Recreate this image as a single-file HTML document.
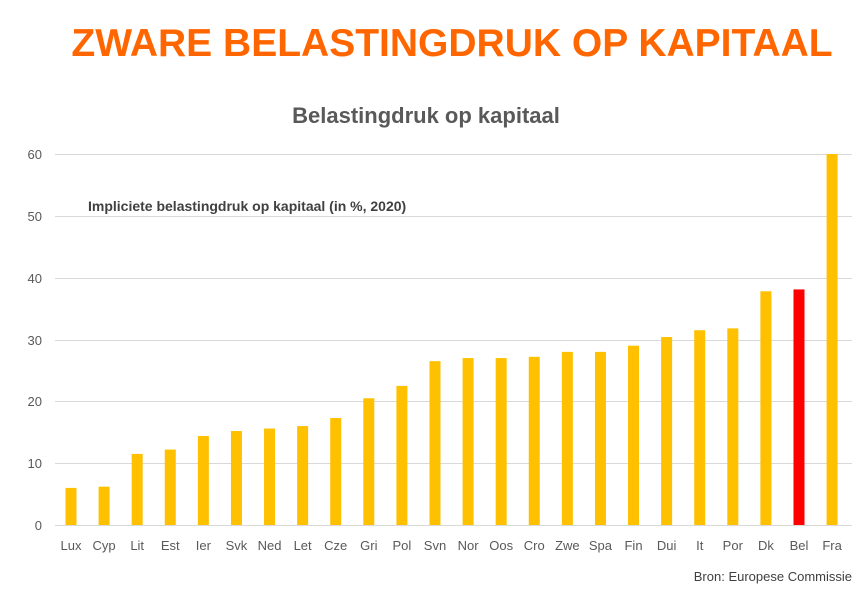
<!DOCTYPE html>
<html><head><meta charset="utf-8"><style>
body{margin:0;background:#fff;width:865px;height:591px;overflow:hidden;font-family:"Liberation Sans",sans-serif}
</style></head><body>
<svg width="865" height="591" xmlns="http://www.w3.org/2000/svg" font-family="Liberation Sans, sans-serif">
<text x="452" y="56" text-anchor="middle" font-size="39" font-weight="bold" fill="#FF6600">ZWARE BELASTINGDRUK OP KAPITAAL</text>
<text x="426" y="123" text-anchor="middle" font-size="22" font-weight="bold" fill="#595959">Belastingdruk op kapitaal</text>
<g stroke="#d9d9d9" stroke-width="1">
<line x1="55" x2="852" y1="154.5" y2="154.5"/><line x1="55" x2="852" y1="216.5" y2="216.5"/>
<line x1="55" x2="852" y1="278.5" y2="278.5"/><line x1="55" x2="852" y1="340.5" y2="340.5"/>
<line x1="55" x2="852" y1="401.5" y2="401.5"/><line x1="55" x2="852" y1="463.5" y2="463.5"/>
<line x1="55" x2="852" y1="525.5" y2="525.5"/>
</g>
<g font-size="13" fill="#595959" text-anchor="end">
<text x="42" y="159">60</text><text x="42" y="221">50</text><text x="42" y="283">40</text>
<text x="42" y="345">30</text><text x="42" y="406">20</text><text x="42" y="468">10</text><text x="42" y="530">0</text>
</g>
<text x="88" y="211" font-size="14" font-weight="bold" fill="#404040">Impliciete belastingdruk op kapitaal (in %, 2020)</text>
<g id="bars"></g>
<g id="labels" font-size="13" fill="#595959" text-anchor="middle"></g>
<text x="852" y="581" text-anchor="end" font-size="13" fill="#404040">Bron: Europese Commissie</text>
</svg>
<script>
var n=["Lux","Cyp","Lit","Est","Ier","Svk","Ned","Let","Cze","Gri","Pol","Svn","Nor","Oos","Cro","Zwe","Spa","Fin","Dui","It","Por","Dk","Bel","Fra"];
var v=[6,6.2,11.5,12.2,14.4,15.2,15.6,16,17.3,20.5,22.5,26.5,27,27,27.2,28,28,29,30.4,31.5,31.8,37.8,38.1,60];
var b=document.getElementById("bars"),l=document.getElementById("labels"),ns="http://www.w3.org/2000/svg";
for(var i=0;i<24;i++){var cx=71+i*33.09,h=v[i]*6.183;
var r=document.createElementNS(ns,"rect");r.setAttribute("x",cx-5.5);r.setAttribute("y",525-h);r.setAttribute("width",11);r.setAttribute("height",h);r.setAttribute("fill",n[i]=="Bel"?"#FF0000":"#FFC000");b.appendChild(r);
var t=document.createElementNS(ns,"text");t.setAttribute("x",cx);t.setAttribute("y",550);t.textContent=n[i];l.appendChild(t);}
</script>
</body></html>
